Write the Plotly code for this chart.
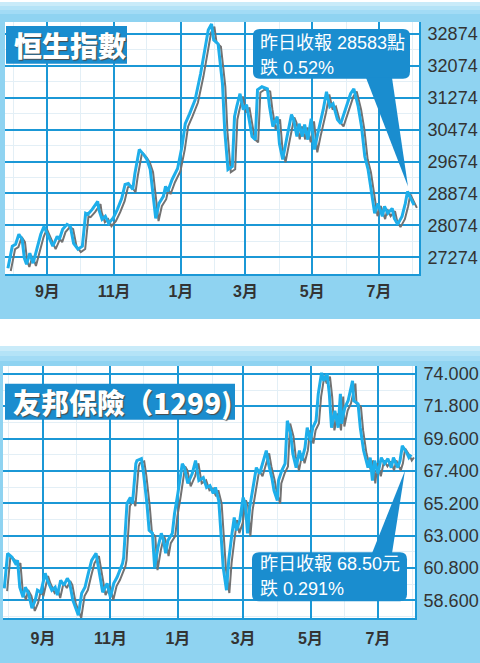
import plotly.graph_objects as go
import pandas as pd

W, H = 480, 663

# ---------------- data ----------------
hsi_dates = [
    "2017-07-27", "2017-07-31", "2017-08-03", "2017-08-06", "2017-08-09", "2017-08-11", "2017-08-13",
    "2017-08-16", "2017-08-19", "2017-08-23", "2017-08-26", "2017-08-29", "2017-09-02", "2017-09-06",
    "2017-09-10", "2017-09-12", "2017-09-15", "2017-09-19", "2017-09-22", "2017-09-25", "2017-09-29",
    "2017-10-03", "2017-10-06", "2017-10-08", "2017-10-12", "2017-10-17", "2017-10-18", "2017-10-21",
    "2017-10-24", "2017-10-27", "2017-10-31", "2017-11-04", "2017-11-08", "2017-11-11", "2017-11-14",
    "2017-11-18", "2017-11-20", "2017-11-24", "2017-11-28", "2017-12-01", "2017-12-04", "2017-12-07",
    "2017-12-09", "2017-12-12", "2017-12-16", "2017-12-18", "2017-12-20", "2017-12-24", "2017-12-29",
    "2018-01-02", "2018-01-05", "2018-01-09", "2018-01-14", "2018-01-19", "2018-01-23", "2018-01-26",
    "2018-01-29", "2018-01-31", "2018-02-04", "2018-02-08", "2018-02-10", "2018-02-13", "2018-02-17",
    "2018-02-19", "2018-02-21", "2018-02-24", "2018-02-27", "2018-03-02", "2018-03-07", "2018-03-10",
    "2018-03-12", "2018-03-16", "2018-03-21", "2018-03-23", "2018-03-26", "2018-03-30", "2018-04-01",
    "2018-04-04", "2018-04-08", "2018-04-12", "2018-04-14", "2018-04-17", "2018-04-19", "2018-04-22",
    "2018-04-24", "2018-04-27", "2018-04-30", "2018-05-03", "2018-05-06", "2018-05-11", "2018-05-14",
    "2018-05-17", "2018-05-20", "2018-05-24", "2018-05-27", "2018-05-31", "2018-06-05", "2018-06-08",
    "2018-06-12", "2018-06-15", "2018-06-18", "2018-06-21", "2018-06-24", "2018-06-27", "2018-06-30",
    "2018-07-04", "2018-07-06", "2018-07-09", "2018-07-13", "2018-07-15", "2018-07-18", "2018-07-22",
    "2018-07-25", "2018-07-27", "2018-07-30", "2018-08-02",
]
hsi_values = [
    26999, 27549, 27599, 27849, 27724, 27249, 27099,
    27374, 27124, 27549, 27849, 28049, 27799, 27549,
    27799, 27724, 27974, 28099, 28049, 27624, 27474,
    27549, 28374, 28349, 28474, 28674, 28474, 28224,
    28299, 28124, 28249, 28474, 28749, 29099, 29124,
    28974, 29374, 29974, 29849, 29724, 29474, 28799,
    28249, 28624, 28799, 29049, 28924, 29224, 29499,
    30049, 30624, 30874, 31224, 31874, 32549, 32974,
    33124, 32724, 32624, 31624, 30474, 29474, 29549,
    30799, 31049, 31374, 30974, 31099, 30299, 30224,
    31474, 31549, 31499, 31049, 30549, 30799, 30124,
    29724, 30299, 30849, 30724, 30299, 30624, 30299,
    30599, 30224, 30749, 29974, 30374, 30974, 31424,
    31049, 31124, 30724, 30624, 30974, 31374, 31499,
    31049, 30549, 29799, 29474, 28974, 28374, 28624,
    28299, 28549, 28374, 28499, 28249, 28099, 28299,
    28624, 28924, 28749, 28583,
]
hsi_ticks = [27274, 28074, 28874, 29674, 30474, 31274, 32074, 32874]
hsi_tick_labels = ["27274", "28074", "28874", "29674", "30474", "31274", "32074", "32874"]

aia_dates = [
    "2017-07-28", "2017-07-31", "2017-08-04", "2017-08-07", "2017-08-09", "2017-08-11", "2017-08-14",
    "2017-08-16", "2017-08-19", "2017-08-22", "2017-08-25", "2017-08-27", "2017-08-30", "2017-09-03",
    "2017-09-05", "2017-09-09", "2017-09-12", "2017-09-14", "2017-09-17", "2017-09-20", "2017-09-23",
    "2017-09-25", "2017-09-28", "2017-10-03", "2017-10-06", "2017-10-09", "2017-10-12", "2017-10-15",
    "2017-10-19", "2017-10-22", "2017-10-25", "2017-10-29", "2017-11-01", "2017-11-04", "2017-11-07",
    "2017-11-12", "2017-11-13", "2017-11-16", "2017-11-19", "2017-11-21", "2017-11-24", "2017-11-25",
    "2017-11-29", "2017-12-01", "2017-12-04", "2017-12-06", "2017-12-09", "2017-12-11", "2017-12-14",
    "2017-12-17", "2017-12-19", "2017-12-21", "2017-12-23", "2017-12-27", "2017-12-29", "2018-01-01",
    "2018-01-05", "2018-01-07", "2018-01-10", "2018-01-14", "2018-01-17", "2018-01-20", "2018-01-24",
    "2018-01-27", "2018-01-30", "2018-02-02", "2018-02-04", "2018-02-07", "2018-02-09", "2018-02-11",
    "2018-02-14", "2018-02-16", "2018-02-19", "2018-02-21", "2018-02-23", "2018-02-26", "2018-03-01",
    "2018-03-03", "2018-03-05", "2018-03-07", "2018-03-10", "2018-03-13", "2018-03-16", "2018-03-19",
    "2018-03-22", "2018-03-24", "2018-03-27", "2018-03-29", "2018-04-01", "2018-04-02", "2018-04-05",
    "2018-04-08", "2018-04-10", "2018-04-13", "2018-04-15", "2018-04-18", "2018-04-21", "2018-04-23",
    "2018-04-26", "2018-04-28", "2018-05-01", "2018-05-03", "2018-05-06", "2018-05-08", "2018-05-11",
    "2018-05-13", "2018-05-16", "2018-05-18", "2018-05-20", "2018-05-23", "2018-05-26", "2018-05-28",
    "2018-05-29", "2018-06-01", "2018-06-04", "2018-06-08", "2018-06-09", "2018-06-13", "2018-06-15",
    "2018-06-18", "2018-06-22", "2018-06-24", "2018-06-26", "2018-06-28", "2018-07-01", "2018-07-04",
    "2018-07-07", "2018-07-10", "2018-07-13", "2018-07-15", "2018-07-19", "2018-07-21", "2018-07-23",
    "2018-07-27", "2018-07-29", "2018-07-31",
]
aia_values = [
    59.41, 61.79, 61.52, 61.11, 61.31, 59.48, 58.80,
    59.48, 59.07, 58.06, 58.60, 59.28, 59.14, 60.43,
    59.96, 59.28, 59.48, 58.94, 59.96, 59.62, 60.09,
    59.82, 58.60, 57.58, 59.07, 59.48, 60.43, 61.31,
    61.79, 60.43, 59.14, 59.75, 58.80, 59.75, 60.16,
    61.11, 61.52, 65.18, 65.59, 65.18, 67.89, 68.10,
    68.23, 67.22, 65.18, 63.35, 63.15, 60.84, 62.19,
    63.15, 62.67, 61.79, 62.67, 63.15, 64.50, 65.86,
    67.89, 67.62, 66.54, 67.22, 68.10, 66.74, 66.94,
    66.27, 66.40, 65.86, 66.27, 65.38, 62.87, 60.84,
    59.28, 61.31, 63.15, 64.23, 63.35, 64.03, 65.59,
    65.18, 63.15, 64.91, 66.27, 67.62, 67.22, 68.10,
    68.78, 67.89, 66.94, 66.06, 65.38, 66.74, 67.42,
    67.89, 70.81, 69.93, 68.57, 67.62, 68.78, 68.10,
    68.98, 70.34, 69.45, 70.34, 70.81, 72.64, 74.07,
    73.53, 74.00, 72.64, 70.34, 71.49, 70.34, 72.64,
    70.61, 71.69, 72.17, 73.53, 72.17, 71.96, 70.34,
    68.78, 67.62, 68.30, 66.74, 68.10, 67.22, 68.30,
    67.89, 68.23, 67.62, 68.30, 67.62, 68.10, 69.11,
    68.64, 68.30, 68.50,
]
aia_ticks = [58.6, 60.8, 63.0, 65.2, 67.4, 69.6, 71.8, 74.0]
aia_tick_labels = ["58.600", "60.800", "63.000", "65.200", "67.400", "69.600", "71.800", "74.000"]

month_ticks = ["2017-09-01", "2017-11-01", "2018-01-01", "2018-03-01", "2018-05-01", "2018-07-01"]
month_labels = ["9月", "11月", "1月", "3月", "5月", "7月"]

titles = ["恒生指數", "友邦保險（1299)"]
callout_top = ["昨日收報 28583點", "跌 0.52%"]
callout_bottom = ["昨日收報 68.50元", "跌 0.291%"]

# ---------------- style ----------------
BG = "#8fd3f1"
GRID = "#1b98d6"
LINE = "#1eaeea"
SHADOW = "#727272"
BOX = "#1a8dcf"
TXT = "#333333"
FONT = "Liberation Sans, Noto Sans CJK TC, sans-serif"
CJK = "Noto Sans CJK TC, sans-serif"


def px(x):
    return x / W


def py(y):
    return 1 - y / H


# plot areas (pixels)
TOP = dict(x0=5, x1=419, y0=20, y1=273)
BOT = dict(x0=3, x1=415, y0=365, y1=618)

top_xrange = [pd.Timestamp("2017-07-24 08:00"), pd.Timestamp("2018-08-06 12:00")]
top_yrange = [26849, 33174]
bot_xrange = [pd.Timestamp("2017-07-26 20:00"), pd.Timestamp("2018-08-03 12:00")]
bot_yrange = [57.38, 74.54]

shift = pd.Timedelta(hours=62)   # shadow offset (~2.8 px)
top_dy = 70
bot_dy = 0.19


def fmt(r):
    return [t.strftime("%Y-%m-%d %H:%M") for t in r]


fig = go.Figure()

# shadows
fig.add_trace(go.Scatter(x=hsi_dates, y=hsi_values, mode="lines", xaxis="x3", yaxis="y3",
                         line=dict(color=SHADOW, width=2), hoverinfo="skip", showlegend=False))
fig.add_trace(go.Scatter(x=aia_dates, y=aia_values, mode="lines", xaxis="x5", yaxis="y5",
                         line=dict(color=SHADOW, width=2), hoverinfo="skip", showlegend=False))
# main lines
fig.add_trace(go.Scatter(x=hsi_dates, y=hsi_values, mode="lines", xaxis="x4", yaxis="y4",
                         line=dict(color=LINE, width=3), showlegend=False))
fig.add_trace(go.Scatter(x=aia_dates, y=aia_values, mode="lines", xaxis="x6", yaxis="y6",
                         line=dict(color=LINE, width=3), showlegend=False))
# anchor traces for the main (grid) axes
fig.add_trace(go.Scatter(x=[], y=[], xaxis="x", yaxis="y", showlegend=False))
fig.add_trace(go.Scatter(x=[], y=[], xaxis="x2", yaxis="y2", showlegend=False))

xcommon = dict(type="date", tickmode="array", tickvals=month_ticks, ticktext=month_labels,
               showgrid=True, gridcolor=GRID, gridwidth=2, showline=True, linecolor=GRID,
               linewidth=2, ticks="", zeroline=False, fixedrange=True,
               tickfont=dict(family=FONT, size=16, color=TXT, weight="bold"),
               minor=dict(showgrid=True, gridcolor="#e3eff6", gridwidth=1,
                          tickmode="array",
                          tickvals=["2017-08-01", "2017-10-01", "2017-12-01", "2018-02-01",
                                    "2018-04-01", "2018-06-01", "2018-08-01"]))
ycommon = dict(side="right", tickmode="array", showgrid=True, gridcolor=GRID, gridwidth=2,
               showline=True, linecolor=GRID, linewidth=2, ticks="", ticklabelstandoff=3,
               zeroline=False, fixedrange=True,
               tickfont=dict(family=FONT, size=18, color=TXT))
hidden = dict(visible=False, showgrid=False, zeroline=False, fixedrange=True)

fig.update_layout(
    width=W, height=H, margin=dict(l=0, r=0, t=0, b=0),
    paper_bgcolor="white", plot_bgcolor="rgba(0,0,0,0)", showlegend=False,
    xaxis=dict(xcommon, domain=[px(TOP["x0"]), px(TOP["x1"])], range=fmt(top_xrange), anchor="y",
               ticklabelstandoff=2),
    yaxis=dict(ycommon, domain=[py(TOP["y1"]), py(TOP["y0"])], range=top_yrange, anchor="x",
               tickvals=hsi_ticks, ticktext=hsi_tick_labels,
               minor=dict(showgrid=True, gridcolor="#e3eff6", gridwidth=1, tickmode="linear",
                          tick0=27274 - 400, dtick=800)),
    xaxis2=dict(xcommon, domain=[px(BOT["x0"]), px(BOT["x1"])], range=fmt(bot_xrange), anchor="y2",
                ticklabelstandoff=5),
    yaxis2=dict(ycommon, domain=[py(BOT["y1"]), py(BOT["y0"])], range=bot_yrange, anchor="x2",
                tickvals=aia_ticks, ticktext=aia_tick_labels,
                minor=dict(showgrid=True, gridcolor="#e3eff6", gridwidth=1, tickmode="linear",
                           tick0=58.6 - 1.1, dtick=2.2)),
    xaxis3=dict(hidden, overlaying="x", anchor="y3", type="date",
                range=fmt([top_xrange[0] - shift, top_xrange[1] - shift])),
    yaxis3=dict(hidden, overlaying="y", anchor="x3", range=[top_yrange[0] + top_dy, top_yrange[1] + top_dy]),
    xaxis4=dict(hidden, overlaying="x", anchor="y4", type="date", range=fmt(top_xrange)),
    yaxis4=dict(hidden, overlaying="y", anchor="x4", range=top_yrange),
    xaxis5=dict(hidden, overlaying="x2", anchor="y5", type="date",
                range=fmt([bot_xrange[0] - shift, bot_xrange[1] - shift])),
    yaxis5=dict(hidden, overlaying="y2", anchor="x5", range=[bot_yrange[0] + bot_dy, bot_yrange[1] + bot_dy]),
    xaxis6=dict(hidden, overlaying="x2", anchor="y6", type="date", range=fmt(bot_xrange)),
    yaxis6=dict(hidden, overlaying="y2", anchor="x6", range=bot_yrange),
)

shapes = []


def rect(x0, y0, x1, y1, color, **kw):
    shapes.append(dict(type="rect", xref="paper", yref="paper", x0=px(x0), x1=px(x1),
                       y0=py(y1), y1=py(y0), fillcolor=color, line=dict(width=0), layer="below", **kw))


# panel backgrounds
rect(0, 0, W, 318, BG)
rect(0, 345, W, H, BG)
for i, c in enumerate(["#c9ebf9", "#b4e3f7", "#a2dbf5"]):
    rect(0, i * 4, W, i * 4 + 4, c)
    rect(0, 345 + i * 5, W, 345 + i * 5 + 5, c)
# white plot areas
rect(TOP["x0"], TOP["y0"], TOP["x1"], TOP["y1"], "white")
rect(BOT["x0"], BOT["y0"], BOT["x1"], BOT["y1"], "white")


def rounded(x0, y0, x1, y1, r):
    pts = [
        f"M {px(x0 + r)},{py(y0)}", f"L {px(x1 - r)},{py(y0)}", f"Q {px(x1)},{py(y0)} {px(x1)},{py(y0 + r)}",
        f"L {px(x1)},{py(y1 - r)}", f"Q {px(x1)},{py(y1)} {px(x1 - r)},{py(y1)}",
        f"L {px(x0 + r)},{py(y1)}", f"Q {px(x0)},{py(y1)} {px(x0)},{py(y1 - r)}",
        f"L {px(x0)},{py(y0 + r)}", f"Q {px(x0)},{py(y0)} {px(x0 + r)},{py(y0)}", "Z",
    ]
    return " ".join(pts)


def tri(a, b, c):
    return (f"M {px(a[0])},{py(a[1])} L {px(b[0])},{py(b[1])} L {px(c[0])},{py(c[1])} Z")


for path in [rounded(253, 27, 410, 77, 7), tri((366, 76), (392, 76), (408, 185)),
             rounded(252, 552, 407, 601, 7), tri((372, 553), (392, 553), (405, 470))]:
    shapes.append(dict(type="path", xref="paper", yref="paper", path=path,
                       fillcolor=BOX, line=dict(width=0), layer="above"))

# title boxes
for (x0, y0, x1, y1) in [(6, 24, 127, 62), (5, 383, 235, 419)]:
    shapes.append(dict(type="rect", xref="paper", yref="paper", x0=px(x0), x1=px(x1),
                       y0=py(y1), y1=py(y0), fillcolor=BOX, line=dict(width=0), layer="above"))

fig.update_layout(shapes=shapes)

ann = []
title_font = dict(family=CJK, size=28, color="white", weight=900, shadow="1px 1px 1px #4a4a4a")
ann.append(dict(text=titles[0], x=px(12), y=py(43), xref="paper", yref="paper",
                xanchor="left", yanchor="middle", showarrow=False, font=title_font))
ann.append(dict(text=titles[1], x=px(11), y=py(401), xref="paper", yref="paper",
                xanchor="left", yanchor="middle", showarrow=False, font=title_font))

call_font = dict(family=FONT, size=18, color="white")
for text, yy in zip(callout_top, [41, 66]):
    ann.append(dict(text=text, x=px(258), y=py(yy), xref="paper", yref="paper",
                    xanchor="left", yanchor="middle", showarrow=False, font=call_font))
for text, yy in zip(callout_bottom, [564, 589]):
    ann.append(dict(text=text, x=px(258), y=py(yy), xref="paper", yref="paper",
                    xanchor="left", yanchor="middle", showarrow=False, font=call_font))
fig.update_layout(annotations=ann)

fig.write_html("out.html", config={"displayModeBar": False},
               post_script="document.body.style.margin='0';document.body.style.overflow='hidden';")
